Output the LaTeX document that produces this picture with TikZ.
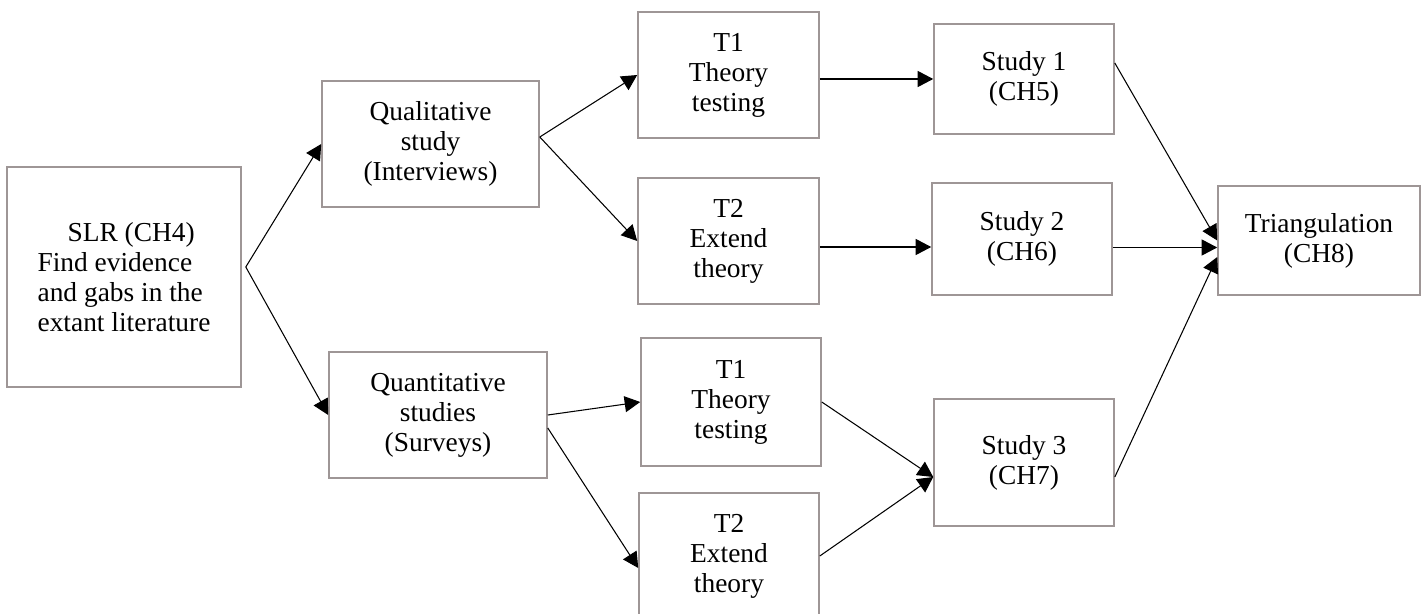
\documentclass[tikz,border=0pt]{standalone}
\usepackage{fontspec}
\setmainfont{Liberation Serif}
\usetikzlibrary{positioning}
\usetikzlibrary{arrows.meta}
\definecolor{boxC}{RGB}{158,150,150}

\tikzset{
  stagebox/.style={draw=boxC, line width=0.9pt, shape=rectangle, align=center,
    font=\fontsize{15.6pt}{17.1pt}\selectfont},
  flow/.style={-{Triangle[length=3.1mm,width=3.2mm]}, line width=0.6pt, black}
}

\begin{document}
\begin{tikzpicture}[scale=1.0]
\useasboundingbox (0cm,0cm) rectangle (28.46cm,12.26cm);

\node[stagebox, align=left, minimum height=4.40cm, minimum width=4.68cm]
(slr) at (2.48cm,6.72cm) {\hspace*{0.6cm}SLR (CH4)\\Find evidence\\and gabs in the\\extant literature};

\node[stagebox, minimum height=2.52cm, minimum width=4.34cm]
(qual) at (8.61cm,9.38cm) {Qualitative\\study\\(Interviews)};
\node[stagebox, minimum height=2.52cm, minimum width=4.36cm]
(quant) at (8.76cm,3.96cm) {Quantitative\\studies\\(Surveys)};

\node[stagebox, minimum height=2.52cm, minimum width=3.62cm]
(t1a) at (14.57cm,10.76cm) {T1\\Theory\\testing};
\node[stagebox, minimum height=2.52cm, minimum width=3.62cm]
(t2a) at (14.57cm,7.44cm) {T2\\Extend\\theory};
\node[stagebox, minimum height=2.56cm, minimum width=3.60cm]
(t1b) at (14.62cm,4.22cm) {T1\\Theory\\testing};
\node[stagebox, minimum height=2.52cm, minimum width=3.60cm]
(t2b) at (14.58cm,1.14cm) {T2\\Extend\\theory};

\node[stagebox, minimum height=2.20cm, minimum width=3.60cm]
(study1) at (20.48cm,10.68cm) {Study 1\\(CH5)};
\node[stagebox, minimum height=2.24cm, minimum width=3.60cm]
(study2) at (20.44cm,7.48cm) {Study 2\\(CH6)};
\node[stagebox, minimum height=2.54cm, minimum width=3.60cm]
(study3) at (20.48cm,3.01cm) {Study 3\\(CH7)};

\node[stagebox, minimum height=2.18cm, minimum width=4.04cm]
(tri) at (26.38cm,7.45cm) {Triangulation\\(CH8)};

\coordinate (slrout) at ([xshift=0.08cm,yshift=0.2cm]slr.east);
\coordinate (qualout) at ([yshift=0.14cm]qual.east);
\coordinate (s2in) at ([yshift=-0.16cm]study2.west);
\coordinate (s3in) at ([yshift=-0.29cm]study3.west);
\coordinate (triin) at ([yshift=-0.14cm]tri.west);

\draw[flow] (slrout) -- (qual.west);
\draw[flow] (slrout) -- (quant.west);

\draw[flow] (qualout) -- (t1a.west);
\draw[flow] (qualout) -- (t2a.west);
\draw[flow] (quant.east) -- (t1b.west);
\draw[flow] ([yshift=-0.26cm]quant.east) -- ([yshift=-0.24cm]t2b.west);

\draw[flow] (t1a.east |- study1.west) -- (study1.west);
\draw[flow] (t2a.east |- s2in) -- (s2in);
\draw[flow] (t1b.east) -- (s3in);
\draw[flow] (t2b.east) -- (s3in);

\draw[flow] ([yshift=0.32cm]study1.east) -- (tri.west);
\draw[flow] (study2.east |- triin) -- (triin);
\draw[flow] ([yshift=-0.29cm]study3.east) -- ([yshift=-0.33cm]tri.west);

\end{tikzpicture}
\end{document}
